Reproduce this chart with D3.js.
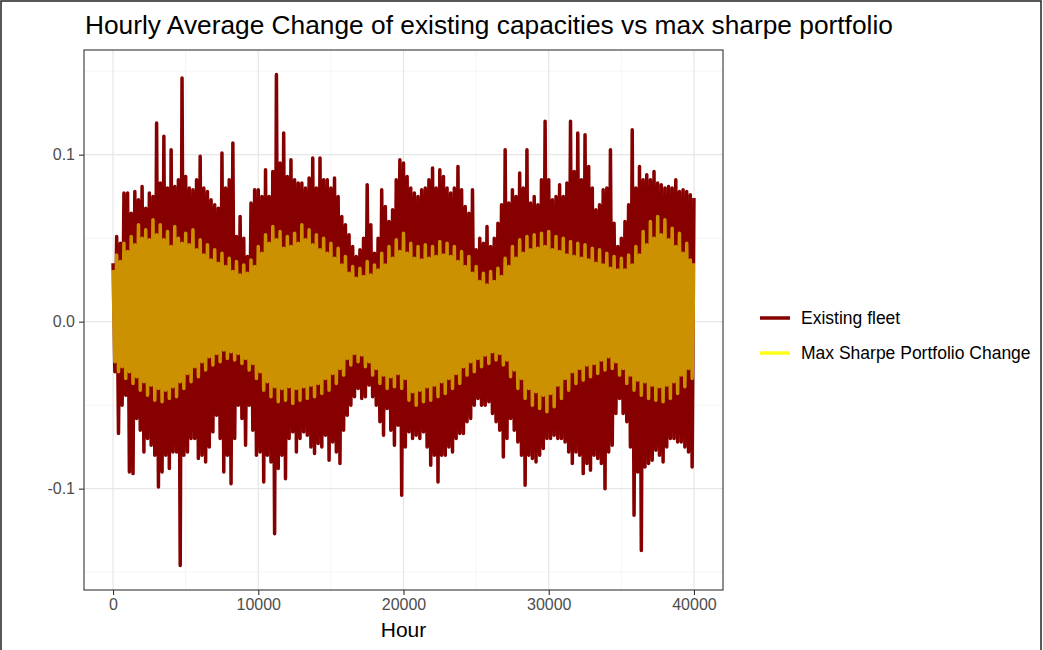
<!DOCTYPE html>
<html>
<head>
<meta charset="utf-8">
<script src="https://cdn.jsdelivr.net/npm/d3@7"></script>
<style>
    body { margin: 0; background: #fff; }
    text { font-family: "Liberation Sans", Arial, sans-serif; }
</style>
</head>
<body>
<div id="chart"></div>
<script>
// tick labels
var xTicks = [0, 10000, 20000, 30000, 40000];
var xMinor = [5000, 15000, 25000, 35000];
var yTicks = [-0.1, 0.0, 0.1];
var yMinor = [-0.15, -0.05, 0.05, 0.15];
var seriesNames = ["Existing fleet", "Max Sharpe Portfolio Change"];

// both series read as peaks: upper peaks every 250 h (from hour 0),
// lower peaks every 250 h (from hour 125)
var peakStep = 250;

// existing fleet
var fleetHigh = [
    0.035, 0.051, 0.047, 0.077, 0.077, 0.065, 0.078, 0.073, 0.081, 0.068,
    0.077, 0.075, 0.119, 0.083, 0.111, 0.080, 0.103, 0.081, 0.085, 0.146,
    0.087, 0.080, 0.079, 0.085, 0.099, 0.080, 0.078, 0.073, 0.070, 0.068,
    0.101, 0.080, 0.085, 0.107, 0.051, 0.063, 0.050, 0.039, 0.071, 0.079,
    0.079, 0.075, 0.091, 0.075, 0.090, 0.148, 0.095, 0.113, 0.087, 0.097,
    0.085, 0.083, 0.083, 0.080, 0.086, 0.098, 0.080, 0.098, 0.085, 0.085,
    0.080, 0.086, 0.075, 0.063, 0.058, 0.052, 0.045, 0.039, 0.043, 0.050,
    0.082, 0.058, 0.041, 0.050, 0.079, 0.069, 0.060, 0.067, 0.085, 0.097,
    0.095, 0.087, 0.080, 0.077, 0.075, 0.079, 0.080, 0.085, 0.092, 0.080,
    0.091, 0.087, 0.080, 0.077, 0.080, 0.093, 0.079, 0.069, 0.065, 0.079,
    0.043, 0.050, 0.047, 0.057, 0.045, 0.050, 0.059, 0.070, 0.103, 0.071,
    0.079, 0.075, 0.089, 0.080, 0.103, 0.071, 0.075, 0.070, 0.085, 0.120,
    0.085, 0.073, 0.075, 0.082, 0.075, 0.083, 0.120, 0.090, 0.113, 0.085,
    0.112, 0.093, 0.080, 0.067, 0.070, 0.079, 0.080, 0.103, 0.059, 0.045,
    0.050, 0.060, 0.070, 0.115, 0.080, 0.093, 0.085, 0.088, 0.085, 0.090,
    0.083, 0.082, 0.080, 0.081, 0.080, 0.085, 0.078, 0.079, 0.078, 0.076,
    0.074
];
var fleetLow = [
    -0.030, -0.067, -0.050, -0.044, -0.090, -0.091, -0.058, -0.065, -0.078, -0.070,
    -0.074, -0.080, -0.099, -0.090, -0.080, -0.088, -0.078, -0.078, -0.146, -0.080,
    -0.078, -0.070, -0.070, -0.082, -0.080, -0.084, -0.075, -0.066, -0.056, -0.070,
    -0.090, -0.080, -0.097, -0.070, -0.050, -0.058, -0.074, -0.050, -0.065, -0.080,
    -0.078, -0.096, -0.080, -0.084, -0.127, -0.088, -0.080, -0.094, -0.070, -0.066,
    -0.078, -0.070, -0.066, -0.068, -0.075, -0.079, -0.073, -0.075, -0.068, -0.083,
    -0.072, -0.078, -0.085, -0.065, -0.056, -0.050, -0.045, -0.040, -0.046, -0.045,
    -0.038, -0.045, -0.050, -0.060, -0.068, -0.052, -0.065, -0.074, -0.062, -0.104,
    -0.075, -0.066, -0.070, -0.068, -0.070, -0.066, -0.075, -0.086, -0.080, -0.096,
    -0.080, -0.080, -0.075, -0.078, -0.070, -0.067, -0.067, -0.060, -0.058, -0.050,
    -0.046, -0.050, -0.050, -0.048, -0.055, -0.060, -0.065, -0.081, -0.070, -0.058,
    -0.065, -0.072, -0.080, -0.098, -0.080, -0.082, -0.084, -0.080, -0.076, -0.070,
    -0.070, -0.068, -0.070, -0.070, -0.072, -0.078, -0.085, -0.078, -0.080, -0.091,
    -0.085, -0.089, -0.080, -0.082, -0.085, -0.100, -0.078, -0.074, -0.055, -0.046,
    -0.055, -0.060, -0.075, -0.116, -0.090, -0.137, -0.087, -0.085, -0.083, -0.077,
    -0.080, -0.084, -0.075, -0.070, -0.070, -0.072, -0.072, -0.075, -0.078, -0.087
];

// max sharpe portfolio change
var sharpeHigh = [
    0.031, 0.040, 0.036, 0.047, 0.042, 0.051, 0.046, 0.058, 0.050, 0.055,
    0.049, 0.061, 0.052, 0.058, 0.049, 0.054, 0.045, 0.057, 0.050, 0.047,
    0.053, 0.046, 0.055, 0.043, 0.049, 0.040, 0.046, 0.037, 0.043, 0.035,
    0.041, 0.033, 0.038, 0.030, 0.036, 0.028, 0.034, 0.029, 0.037, 0.033,
    0.045, 0.041, 0.052, 0.047, 0.057, 0.049, 0.054, 0.044, 0.051, 0.045,
    0.053, 0.047, 0.058, 0.049, 0.055, 0.046, 0.052, 0.043, 0.050, 0.041,
    0.047, 0.038, 0.044, 0.034, 0.039, 0.029, 0.033, 0.026, 0.032, 0.027,
    0.036, 0.028, 0.034, 0.031, 0.041, 0.034, 0.045, 0.038, 0.049, 0.042,
    0.053, 0.041, 0.047, 0.038, 0.045, 0.037, 0.046, 0.038, 0.045, 0.039,
    0.048, 0.040, 0.047, 0.039, 0.045, 0.036, 0.042, 0.033, 0.039, 0.029,
    0.033, 0.024, 0.029, 0.022, 0.030, 0.024, 0.032, 0.027, 0.038, 0.033,
    0.045, 0.038, 0.049, 0.041, 0.051, 0.043, 0.052, 0.044, 0.053, 0.045,
    0.054, 0.043, 0.051, 0.042, 0.050, 0.040, 0.048, 0.039, 0.047, 0.038,
    0.046, 0.037, 0.044, 0.035, 0.043, 0.034, 0.041, 0.032, 0.039, 0.031,
    0.038, 0.031, 0.040, 0.034, 0.045, 0.040, 0.054, 0.046, 0.060, 0.050,
    0.063, 0.052, 0.061, 0.049, 0.056, 0.045, 0.053, 0.041, 0.047, 0.037,
    0.035
];
var sharpeLow = [
    -0.024, -0.030, -0.027, -0.034, -0.030, -0.037, -0.033, -0.041, -0.036, -0.044,
    -0.038, -0.047, -0.040, -0.048, -0.041, -0.046, -0.039, -0.045, -0.036, -0.040,
    -0.031, -0.036, -0.027, -0.033, -0.024, -0.029, -0.021, -0.026, -0.019, -0.024,
    -0.017, -0.022, -0.018, -0.023, -0.019, -0.025, -0.022, -0.029, -0.025, -0.034,
    -0.030, -0.041, -0.036, -0.045, -0.039, -0.048, -0.040, -0.047, -0.039, -0.049,
    -0.040, -0.047, -0.039, -0.046, -0.038, -0.045, -0.037, -0.043, -0.034, -0.041,
    -0.031, -0.037, -0.028, -0.032, -0.022, -0.026, -0.019, -0.024, -0.020, -0.027,
    -0.024, -0.032, -0.028, -0.037, -0.032, -0.040, -0.033, -0.039, -0.031, -0.040,
    -0.034, -0.047, -0.042, -0.050, -0.041, -0.048, -0.039, -0.047, -0.038, -0.045,
    -0.036, -0.043, -0.034, -0.040, -0.031, -0.037, -0.027, -0.032, -0.024, -0.030,
    -0.022, -0.027, -0.020, -0.025, -0.018, -0.023, -0.019, -0.026, -0.023, -0.033,
    -0.029, -0.040, -0.034, -0.046, -0.040, -0.050, -0.042, -0.052, -0.044, -0.054,
    -0.043, -0.051, -0.038, -0.046, -0.034, -0.041, -0.030, -0.037, -0.028, -0.035,
    -0.026, -0.033, -0.025, -0.031, -0.023, -0.029, -0.021, -0.028, -0.024, -0.032,
    -0.028, -0.037, -0.032, -0.041, -0.035, -0.044, -0.036, -0.046, -0.038, -0.047,
    -0.039, -0.048, -0.038, -0.046, -0.036, -0.043, -0.032, -0.039, -0.028, -0.034
];

var colors = ["#860000", "#ffff00"];

// interleave the peaks into one line per series
function buildSeries(high, low, step) {
    var out = [];
    for (var i = 0; i < high.length; i++) {
        out.push({hour: i * step, value: high[i]});
        if (i < low.length) out.push({hour: i * step + step / 2, value: low[i]});
    }
    return out;
}
var fleet = buildSeries(fleetHigh, fleetLow, peakStep);
var sharpe = buildSeries(sharpeHigh, sharpeLow, peakStep);

var W = 1043, H = 650;
var panel = {left: 84, right: 723, top: 50, bottom: 590};

var svg = d3.select("#chart").append("svg")
    .attr("width", W)
    .attr("height", H);

svg.append("rect")
    .attr("x", 0).attr("y", 0)
    .attr("width", W).attr("height", H)
    .attr("fill", "#fff");

// ggplot style 5% expansion
var all = fleet.concat(sharpe);
var xExt = d3.extent(all, function(d) { return d.hour; });
var yExt = d3.extent(all, function(d) { return d.value; });
var xPad = (xExt[1] - xExt[0]) * 0.05, yPad = (yExt[1] - yExt[0]) * 0.05;

var x = d3.scaleLinear().domain([xExt[0] - xPad, xExt[1] + xPad]).range([panel.left, panel.right]);
var y = d3.scaleLinear().domain([yExt[0] - yPad, yExt[1] + yPad]).range([panel.bottom, panel.top]);

// grid
var grid = svg.append("g").attr("class", "grid");
function vLines(vals, color, w) {
    grid.selectAll(null).data(vals).enter().append("line")
        .attr("x1", function(d) { return x(d); }).attr("x2", function(d) { return x(d); })
        .attr("y1", panel.top).attr("y2", panel.bottom)
        .attr("stroke", color).attr("stroke-width", w);
}
function hLines(vals, color, w) {
    grid.selectAll(null).data(vals).enter().append("line")
        .attr("y1", function(d) { return y(d); }).attr("y2", function(d) { return y(d); })
        .attr("x1", panel.left).attr("x2", panel.right)
        .attr("stroke", color).attr("stroke-width", w);
}
vLines(xMinor, "#f2f2f2", 0.8);
hLines(yMinor, "#f2f2f2", 0.8);
vLines(xTicks, "#e6e6e6", 1.2);
hLines(yTicks, "#e6e6e6", 1.2);

svg.append("clipPath").attr("id", "clip")
    .append("rect")
    .attr("x", panel.left).attr("y", panel.top)
    .attr("width", panel.right - panel.left)
    .attr("height", panel.bottom - panel.top);

var line = d3.line()
    .x(function(d) { return x(d.hour); })
    .y(function(d) { return y(d.value); });

var plot = svg.append("g").attr("clip-path", "url(#clip)");
plot.append("path")
    .datum(fleet)
    .attr("d", line)
    .attr("fill", "none")
    .attr("stroke", colors[0])
    .attr("stroke-width", 3.5)
    .attr("stroke-linejoin", "round");
plot.append("path")
    .datum(sharpe)
    .attr("d", line)
    .attr("fill", "none")
    .attr("stroke", colors[1])
    .attr("stroke-opacity", 0.57)
    .attr("stroke-width", 3.5)
    .attr("stroke-linejoin", "round");

// panel border
svg.append("rect")
    .attr("x", panel.left).attr("y", panel.top)
    .attr("width", panel.right - panel.left)
    .attr("height", panel.bottom - panel.top)
    .attr("fill", "none")
    .attr("stroke", "#333")
    .attr("stroke-width", 1.1);

// axes
var xAxis = svg.append("g")
    .attr("transform", "translate(0," + panel.bottom + ")")
    .call(d3.axisBottom(x).tickValues(xTicks).tickSize(5).tickPadding(4).tickFormat(d3.format("d")));
var yAxis = svg.append("g")
    .attr("transform", "translate(" + panel.left + ",0)")
    .call(d3.axisLeft(y).tickValues(yTicks).tickSize(5).tickPadding(4)
        .tickFormat(function(d) { return d.toFixed(1); }));
[xAxis, yAxis].forEach(function(a) {
    a.select(".domain").remove();
    a.selectAll(".tick line").attr("stroke", "#333").attr("stroke-width", 1.1);
    a.selectAll(".tick text")
        .attr("fill", "#4d4d4d")
        .style("font-size", "16px")
        .style("font-family", "'Liberation Sans', Arial, sans-serif");
});

svg.append("text")
    .attr("x", (panel.left + panel.right) / 2)
    .attr("y", 637)
    .attr("text-anchor", "middle")
    .style("font-size", "21px")
    .attr("fill", "#000")
    .text("Hour");

svg.append("text")
    .attr("x", 85)
    .attr("y", 34)
    .style("font-size", "26.3px")
    .attr("fill", "#000")
    .text("Hourly Average Change of existing capacities vs max sharpe portfolio");

// legend
var legend = svg.selectAll(".legend")
    .data(seriesNames)
    .enter().append("g")
    .attr("class", "legend")
    .attr("transform", function(d, i) { return "translate(0," + (318 + i * 35) + ")"; });
legend.append("line")
    .attr("x1", 760).attr("x2", 790)
    .attr("stroke", function(d, i) { return colors[i]; })
    .attr("stroke-opacity", function(d, i) { return i === 1 ? 0.9 : 1; })
    .attr("stroke-width", 3.5);
legend.append("text")
    .attr("x", 801)
    .attr("dy", "0.35em")
    .style("font-size", "17.5px")
    .attr("fill", "#000")
    .text(function(d) { return d; });

// outer frame
svg.append("rect")
    .attr("x", 1).attr("y", 1)
    .attr("width", W - 3).attr("height", H + 5)
    .attr("fill", "none")
    .attr("stroke", "#222")
    .attr("stroke-width", 1.5);
</script>
</body>
</html>
